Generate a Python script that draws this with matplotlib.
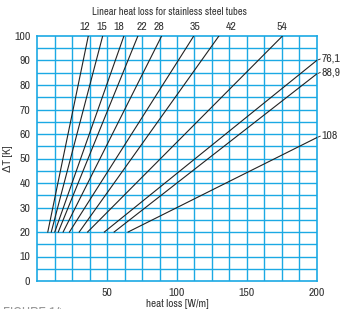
import matplotlib
matplotlib.use("Agg")
import matplotlib.pyplot as plt
import numpy as np

plt.rcParams['font.family'] = ['Archivo Narrow', 'Liberation Sans', 'DejaVu Sans']

# Tube diameters (labels)
tubes = ["12", "15", "18", "22", "28", "35", "42", "54", "76,1", "88,9", "108"]
# line start (heat loss at dT=20) and end points
q_start = [7.5, 10.0, 12.5, 15.0, 18.5, 23.0, 30.0, 36.0, 48.0, 55.0, 65.0]
dT_start = [20, 20, 20, 20, 20, 20, 20, 20, 20, 20, 20]
q_end = [36.5, 46.8, 62.0, 72.0, 89.0, 112.0, 130.0, 175.5, 200.0, 200.0, 200.0]
dT_end = [100, 100, 100, 100, 100, 100, 100, 100, 90.0, 84.5, 58.5]
# label positions for top labels
top_label_x = [33.9, 46.1, 58.5, 74.9, 87.1, 112.9, 138.5, 175.4]

x_ticks = [50, 100, 150, 200]
y_ticks = list(range(0, 101, 10))

grid_color = '#1BA9E4'
text_color = '#333333'

fig = plt.figure(figsize=(3.4, 3.09), dpi=100)
ax = fig.add_axes([37.3/340, 28/309, 279.4/340, 245/309])
ax.set_xlim(0, 200)
ax.set_ylim(0, 100)

for gx in np.arange(12.5, 200, 12.5):
    ax.axvline(gx, color=grid_color, lw=1.0, zorder=1)
for gy in np.arange(5, 100, 5):
    ax.axhline(gy, color=grid_color, lw=1.0, zorder=1)
for s in ax.spines.values():
    s.set_color(grid_color)
    s.set_linewidth(1.2)

for i, t in enumerate(tubes):
    ax.plot([q_start[i], q_end[i]], [dT_start[i], dT_end[i]], color='#222222', lw=0.8, zorder=3)

for i, lx in enumerate(top_label_x):
    ax.text(lx, 101.5, tubes[i], ha='center', va='bottom', fontsize=8.5, color=text_color)

for i in range(8, 11):
    ax.plot([200, 202.5], [dT_end[i], dT_end[i] + 0.6], color='#222222', lw=0.6, clip_on=False)
    ax.text(203.5, dT_end[i] + 0.7, tubes[i], ha='left', va='center', fontsize=8.5, color=text_color)

ax.set_xticks(x_ticks)
ax.set_yticks(y_ticks)
ax.tick_params(length=0, labelsize=8.5, labelcolor=text_color, pad=5)
ax.set_xlabel('heat loss [W/m]', fontsize=8, color=text_color, labelpad=1)
ax.set_ylabel('ΔT [K]', fontsize=8, color=text_color, labelpad=1)
fig.text(170/340, 1 - 12/309, 'Linear heat loss for stainless steel tubes', ha='center', va='center',
         fontsize=7.6, color=text_color)
fig.text(3/340, 3/309, 'FIGURE 14', ha='left', va='top', fontsize=10, color='#999999')

fig.savefig('out.png', dpi=100)
